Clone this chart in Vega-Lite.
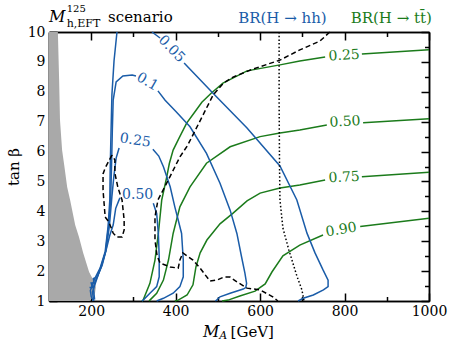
{
"$schema": "https://vega.github.io/schema/vega-lite/v6.json",
"width": 380, "height": 269,
"autosize": {"type": "none"},
"padding": {"left": 49, "top": 32, "right": 25, "bottom": 51},
"background": "white",
"config": {
 "view": {"stroke": null},
 "axis": {"domainColor": "black", "domainWidth": 1.5, "tickColor": "black", "tickWidth": 1.5, "labelFont": "DejaVu Serif", "labelFontSize": 14, "labelColor": "black", "labelFlush": false, "grid": false, "titleFont": "DejaVu Serif", "titleFontWeight": "normal", "titleFontSize": 15, "titleColor": "black"},
 "text": {"font": "DejaVu Serif"}
},
"data": {"values": [{}]},
"datasets": {
 "excl": [{"M":121,"t":10},{"M":124,"t":8.39},{"M":126,"t":7.06},{"M":131,"t":6.05},{"M":136,"t":5.55},{"M":143,"t":4.81},{"M":150,"t":4.38},{"M":162,"t":3.54},{"M":171,"t":3.14},{"M":181,"t":2.61},{"M":195,"t":1.97},{"M":207,"t":1.64},{"M":211,"t":1.47},{"M":209,"t":1.27},{"M":202,"t":1.1},{"M":195,"t":1.0}],
 "hh": [
  {"c":"a","M":261,"t":10},{"c":"a","M":254,"t":9.03},{"c":"a","M":249,"t":7.89},{"c":"a","M":247,"t":6.72},{"c":"a","M":245,"t":5.45},{"c":"a","M":244,"t":4.38},{"c":"a","M":240,"t":3.5},{"c":"a","M":233,"t":2.65},{"c":"a","M":221,"t":2.1},{"c":"a","M":209,"t":1.77},{"c":"a","M":203,"t":1.55},{"c":"a","M":198,"t":1.35},{"c":"a","M":200,"t":1.15},{"c":"a","M":205,"t":1.0},
  {"c":"b","M":344,"t":10},{"c":"b","M":363,"t":9.8},
  {"c":"c","M":420,"t":8.96},{"c":"c","M":488,"t":7.96},{"c":"c","M":569,"t":6.79},{"c":"c","M":647,"t":5.52},{"c":"c","M":687,"t":4.38},{"c":"c","M":711,"t":3.27},{"c":"c","M":730,"t":2.61},{"c":"c","M":749,"t":2.04},{"c":"c","M":761,"t":1.7},{"c":"c","M":761,"t":1.48},{"c":"c","M":750,"t":1.37},{"c":"c","M":726,"t":1.2},{"c":"c","M":702,"t":1.09},{"c":"c","M":690,"t":1.0},
  {"c":"d","M":206,"t":1.0},{"c":"d","M":203,"t":1.3},{"c":"d","M":210,"t":1.6},{"c":"d","M":222,"t":2.1},{"c":"d","M":234,"t":2.65},{"c":"d","M":241,"t":3.5},{"c":"d","M":246,"t":4.38},{"c":"d","M":248,"t":5.45},{"c":"d","M":250,"t":6.72},{"c":"d","M":252,"t":7.72},{"c":"d","M":259,"t":8.33},{"c":"d","M":275,"t":8.53},{"c":"d","M":297,"t":8.56},{"c":"d","M":306,"t":8.53},
  {"c":"e","M":358,"t":8.03},{"c":"e","M":375,"t":7.72},{"c":"e","M":400,"t":7.35},{"c":"e","M":434,"t":6.83},{"c":"e","M":473,"t":5.94},{"c":"e","M":505,"t":4.94},{"c":"e","M":529,"t":4.04},{"c":"e","M":545,"t":3.26},{"c":"e","M":556,"t":2.48},{"c":"e","M":564,"t":1.93},{"c":"e","M":568,"t":1.59},{"c":"e","M":566,"t":1.45},{"c":"e","M":560,"t":1.4},{"c":"e","M":529,"t":1.26},{"c":"e","M":505,"t":1.14},{"c":"e","M":497,"t":1.03},{"c":"e","M":494,"t":1.0},
  {"c":"f","M":208,"t":1.05},{"c":"f","M":205,"t":1.45},{"c":"f","M":212,"t":1.75},{"c":"f","M":224,"t":2.15},{"c":"f","M":235,"t":2.7},{"c":"f","M":243,"t":3.5},{"c":"f","M":249,"t":4.5},{"c":"f","M":254,"t":5.22},{"c":"f","M":259,"t":5.78},{"c":"f","M":266,"t":6.12},
  {"c":"g","M":346,"t":6.08},{"c":"g","M":360,"t":5.85},{"c":"g","M":371,"t":5.49},{"c":"g","M":387,"t":4.82},{"c":"g","M":398,"t":4.15},{"c":"g","M":406,"t":3.71},{"c":"g","M":414,"t":3.26},{"c":"g","M":418,"t":2.37},{"c":"g","M":418,"t":1.81},{"c":"g","M":410,"t":1.48},{"c":"g","M":394,"t":1.26},{"c":"g","M":371,"t":1.09},{"c":"g","M":355,"t":1.0},
  {"c":"h","M":196,"t":1.45},{"c":"h","M":203,"t":1.45},{"c":"h","M":200,"t":1.6},{"c":"h","M":207,"t":1.6},{"c":"h","M":205,"t":1.75},{"c":"h","M":214,"t":1.8},{"c":"h","M":226,"t":2.2},{"c":"h","M":236,"t":2.75},{"c":"h","M":244,"t":3.2},{"c":"h","M":252,"t":3.54},{"c":"h","M":258,"t":4.1},{"c":"h","M":265,"t":4.35},{"c":"h","M":268,"t":4.45},
  {"c":"k","M":347,"t":4.27},{"c":"k","M":355,"t":3.93},{"c":"k","M":359,"t":3.26},{"c":"k","M":361,"t":2.48},{"c":"k","M":361,"t":1.81},{"c":"k","M":355,"t":1.48},{"c":"k","M":339,"t":1.26},{"c":"k","M":323,"t":1.03},{"c":"k","M":320,"t":1.0}
 ],
 "tt": [
  {"c":"a","M":1000,"t":9.41},{"c":"a","M":841,"t":9.26},
  {"c":"b","M":754,"t":9.16},{"c":"b","M":694,"t":9.03},{"c":"b","M":647,"t":8.9},{"c":"b","M":569,"t":8.7},{"c":"b","M":512,"t":8.29},{"c":"b","M":484,"t":7.95},{"c":"b","M":462,"t":7.65},{"c":"b","M":444,"t":7.3},{"c":"b","M":426,"t":6.95},{"c":"b","M":408,"t":6.45},{"c":"b","M":394,"t":6.05},{"c":"b","M":385,"t":5.6},{"c":"b","M":379,"t":5.16},{"c":"b","M":367,"t":4.38},{"c":"b","M":359,"t":3.26},{"c":"b","M":351,"t":2.37},{"c":"b","M":339,"t":1.59},{"c":"b","M":323,"t":1.03},{"c":"b","M":320,"t":1.0},
  {"c":"c","M":1000,"t":7.1},{"c":"c","M":844,"t":6.96},
  {"c":"d","M":758,"t":6.89},{"c":"d","M":694,"t":6.72},{"c":"d","M":647,"t":6.62},{"c":"d","M":600,"t":6.5},{"c":"d","M":529,"t":6.16},{"c":"d","M":473,"t":5.61},{"c":"d","M":434,"t":4.82},{"c":"d","M":410,"t":4.15},{"c":"d","M":394,"t":3.26},{"c":"d","M":383,"t":2.37},{"c":"d","M":371,"t":1.7},{"c":"d","M":355,"t":1.26},{"c":"d","M":339,"t":1.03},{"c":"d","M":337,"t":1.0},
  {"c":"e","M":1000,"t":5.31},{"c":"e","M":841,"t":5.16},
  {"c":"f","M":754,"t":5.05},{"c":"f","M":694,"t":4.88},{"c":"f","M":647,"t":4.78},{"c":"f","M":600,"t":4.61},{"c":"f","M":569,"t":4.35},{"c":"f","M":536,"t":3.94},{"c":"f","M":505,"t":3.58},{"c":"f","M":474,"t":3.04},{"c":"f","M":458,"t":2.61},{"c":"f","M":448,"t":2.14},{"c":"f","M":441,"t":1.54},{"c":"f","M":427,"t":1.2},{"c":"f","M":406,"t":1.03},{"c":"f","M":398,"t":1.0},
  {"c":"g","M":1000,"t":3.77},{"c":"g","M":837,"t":3.49},
  {"c":"h","M":749,"t":3.21},{"c":"h","M":694,"t":2.87},{"c":"h","M":654,"t":2.51},{"c":"h","M":628,"t":1.97},{"c":"h","M":612,"t":1.57},{"c":"h","M":588,"t":1.33},{"c":"h","M":552,"t":1.17},{"c":"h","M":524,"t":1.03},{"c":"h","M":510,"t":1.0}
 ],
 "dash": [
  {"c":"a","M":765,"t":10},{"c":"a","M":742,"t":9.7},{"c":"a","M":694,"t":9.4},{"c":"a","M":647,"t":9.06},{"c":"a","M":583,"t":8.76},{"c":"a","M":536,"t":8.49},{"c":"a","M":513,"t":8.29},{"c":"a","M":489,"t":7.9},{"c":"a","M":465,"t":7.23},{"c":"a","M":446,"t":6.7},{"c":"a","M":428,"t":6.2},{"c":"a","M":410,"t":5.82},{"c":"a","M":379,"t":4.95},{"c":"a","M":358,"t":4.38},{"c":"a","M":351,"t":3.81},{"c":"a","M":351,"t":3.04},{"c":"a","M":356,"t":2.51},{"c":"a","M":363,"t":2.27},{"c":"a","M":387,"t":2.14},{"c":"a","M":406,"t":2.1},{"c":"a","M":410,"t":2.37},{"c":"a","M":417,"t":2.61},{"c":"a","M":441,"t":2.37},{"c":"a","M":458,"t":2.1},{"c":"a","M":481,"t":1.67},{"c":"a","M":498,"t":1.7},{"c":"a","M":514,"t":1.8},{"c":"a","M":529,"t":1.8},{"c":"a","M":545,"t":1.64},{"c":"a","M":569,"t":1.43},{"c":"a","M":600,"t":1.37},{"c":"a","M":631,"t":1.13},{"c":"a","M":642,"t":1.0},
  {"c":"b","M":249,"t":5.88},{"c":"b","M":233,"t":5.45},{"c":"b","M":228,"t":5.25},{"c":"b","M":228,"t":4.71},{"c":"b","M":233,"t":3.81},{"c":"b","M":242,"t":3.64},{"c":"b","M":252,"t":3.27},{"c":"b","M":261,"t":3.14},{"c":"b","M":273,"t":3.14},{"c":"b","M":278,"t":3.38},{"c":"b","M":278,"t":3.71},{"c":"b","M":273,"t":4.38},{"c":"b","M":263,"t":4.81},{"c":"b","M":256,"t":5.28},{"c":"b","M":256,"t":5.72},{"c":"b","M":249,"t":5.88}
 ],
 "dot": [{"M":645,"t":10},{"M":645,"t":7.72},{"M":646,"t":5.48},{"M":647,"t":4.38},{"M":654,"t":3.44},{"M":668,"t":2.71},{"M":687,"t":1.84},{"M":699,"t":1.37},{"M":704,"t":1.0}],
 "lab": [
  {"g":"hh","v":"0.05","M":390,"t":9.43},{"g":"hh","v":"0.1","M":333,"t":8.33},{"g":"hh","v":"0.25","M":304,"t":6.37},{"g":"hh","v":"0.50","M":310,"t":4.55},
  {"g":"tt","v":"0.25","M":799,"t":9.21},{"g":"tt","v":"0.50","M":801,"t":6.99},{"g":"tt","v":"0.75","M":799,"t":5.13},{"g":"tt","v":"0.90","M":792,"t":3.38}
 ]
},
"layer": [
 {"data": {"name": "excl"}, "mark": {"type": "area", "orient": "horizontal", "color": "#a9a9a9"},
  "encoding": {
   "x": {"field": "M", "type": "quantitative", "scale": {"domain": [100, 1000], "nice": false, "zero": false}, "axis": {"orient": "bottom", "values": [200, 400, 600, 800, 1000], "format": "d", "tickSize": -8, "labelPadding": 11, "title": null}},
   "x2": {"datum": 100},
   "y": {"field": "t", "type": "quantitative", "scale": {"domain": [1, 10], "nice": false, "zero": false}, "axis": {"orient": "left", "values": [1,2,3,4,5,6,7,8,9,10], "format": "d", "tickSize": -8, "labelPadding": 12, "title": "tan β", "titlePadding": 6}}
  }},
 {"data": {"name": "tt"}, "mark": {"type": "line", "color": "#1b7b1b", "strokeWidth": 1.5},
  "encoding": {
   "x": {"field": "M", "type": "quantitative", "scale": {"domain": [100, 1000], "nice": false, "zero": false}, "axis": {"orient": "top", "values": [200, 400, 600, 800, 1000], "tickSize": -8, "labels": false, "title": null}},
   "y": {"field": "t", "type": "quantitative", "scale": {"domain": [1, 10], "nice": false, "zero": false}, "axis": {"orient": "right", "values": [1,2,3,4,5,6,7,8,9,10], "tickSize": -8, "labels": false, "title": null}},
   "detail": {"field": "c"}, "order": {"value": null}
  }},
 {"data": {"name": "hh"}, "mark": {"type": "line", "color": "#1a5ca8", "strokeWidth": 1.5},
  "encoding": {
   "x": {"field": "M", "type": "quantitative", "scale": {"domain": [100, 1000], "nice": false, "zero": false}, "axis": {"orient": "bottom", "values": [300, 500, 700, 900], "tickSize": -4.5, "labels": false, "title": null}},
   "y": {"field": "t", "type": "quantitative", "scale": {"domain": [1, 10], "nice": false, "zero": false}, "axis": {"orient": "left", "values": [1.5,2.5,3.5,4.5,5.5,6.5,7.5,8.5,9.5], "tickSize": -4.5, "labels": false, "title": null}},
   "detail": {"field": "c"}, "order": {"value": null}
  }},
 {"data": {"name": "dash"}, "mark": {"type": "line", "color": "black", "strokeWidth": 1.5, "strokeDash": [5, 3]},
  "encoding": {
   "x": {"field": "M", "type": "quantitative", "scale": {"domain": [100, 1000], "nice": false, "zero": false}, "axis": {"orient": "top", "values": [300, 500, 700, 900], "tickSize": -4.5, "labels": false, "title": null}},
   "y": {"field": "t", "type": "quantitative", "scale": {"domain": [1, 10], "nice": false, "zero": false}, "axis": {"orient": "right", "values": [1.5,2.5,3.5,4.5,5.5,6.5,7.5,8.5,9.5], "tickSize": -4.5, "labels": false, "title": null}},
   "detail": {"field": "c"}, "order": {"value": null}
  }},
 {"data": {"name": "dot"}, "mark": {"type": "line", "color": "black", "strokeWidth": 1.5, "strokeDash": [1.5, 2.2]},
  "encoding": {
   "x": {"field": "M", "type": "quantitative", "scale": {"domain": [100, 1000], "nice": false, "zero": false}, "axis": null},
   "y": {"field": "t", "type": "quantitative", "scale": {"domain": [1, 10], "nice": false, "zero": false}, "axis": null},
   "order": {"value": null}
  }},
 {"data": {"name": "lab"}, "transform": [{"filter": "datum.g == 'hh' && datum.v == '0.05'"}], "mark": {"type": "text", "color": "#1a5ca8", "fontSize": 14, "angle": 46, "align": "center", "baseline": "middle"},
  "encoding": {"x": {"field": "M", "type": "quantitative", "scale": {"domain": [100, 1000], "nice": false, "zero": false}, "axis": null}, "y": {"field": "t", "type": "quantitative", "scale": {"domain": [1, 10], "nice": false, "zero": false}, "axis": null}, "text": {"field": "v"}}},
 {"data": {"name": "lab"}, "transform": [{"filter": "datum.g == 'hh' && datum.v == '0.1'"}], "mark": {"type": "text", "color": "#1a5ca8", "fontSize": 14, "angle": 30, "align": "center", "baseline": "middle"},
  "encoding": {"x": {"field": "M", "type": "quantitative", "scale": {"domain": [100, 1000], "nice": false, "zero": false}, "axis": null}, "y": {"field": "t", "type": "quantitative", "scale": {"domain": [1, 10], "nice": false, "zero": false}, "axis": null}, "text": {"field": "v"}}},
 {"data": {"name": "lab"}, "transform": [{"filter": "datum.g == 'hh' && datum.v == '0.25'"}], "mark": {"type": "text", "color": "#1a5ca8", "fontSize": 14, "angle": 8, "align": "center", "baseline": "middle"},
  "encoding": {"x": {"field": "M", "type": "quantitative", "scale": {"domain": [100, 1000], "nice": false, "zero": false}, "axis": null}, "y": {"field": "t", "type": "quantitative", "scale": {"domain": [1, 10], "nice": false, "zero": false}, "axis": null}, "text": {"field": "v"}}},
 {"data": {"name": "lab"}, "transform": [{"filter": "datum.g == 'hh' && datum.v == '0.50'"}], "mark": {"type": "text", "color": "#1a5ca8", "fontSize": 14, "align": "center", "baseline": "middle"},
  "encoding": {"x": {"field": "M", "type": "quantitative", "scale": {"domain": [100, 1000], "nice": false, "zero": false}, "axis": null}, "y": {"field": "t", "type": "quantitative", "scale": {"domain": [1, 10], "nice": false, "zero": false}, "axis": null}, "text": {"field": "v"}}},
 {"data": {"name": "lab"}, "transform": [{"filter": "datum.g == 'tt' && datum.v != '0.90'"}], "mark": {"type": "text", "color": "#1b7b1b", "fontSize": 14, "angle": -3, "align": "center", "baseline": "middle"},
  "encoding": {"x": {"field": "M", "type": "quantitative", "scale": {"domain": [100, 1000], "nice": false, "zero": false}, "axis": null}, "y": {"field": "t", "type": "quantitative", "scale": {"domain": [1, 10], "nice": false, "zero": false}, "axis": null}, "text": {"field": "v"}}},
 {"data": {"name": "lab"}, "transform": [{"filter": "datum.g == 'tt' && datum.v == '0.90'"}], "mark": {"type": "text", "color": "#1b7b1b", "fontSize": 14, "angle": -10, "align": "center", "baseline": "middle"},
  "encoding": {"x": {"field": "M", "type": "quantitative", "scale": {"domain": [100, 1000], "nice": false, "zero": false}, "axis": null}, "y": {"field": "t", "type": "quantitative", "scale": {"domain": [1, 10], "nice": false, "zero": false}, "axis": null}, "text": {"field": "v"}}},
 {"mark": {"type": "text", "fontSize": 16, "fontStyle": "italic", "align": "left", "baseline": "alphabetic", "color": "black"},
  "encoding": {"x": {"datum": 100, "type": "quantitative", "scale": {"domain": [100, 1000], "nice": false, "zero": false}, "axis": null}, "y": {"datum": 10.33, "type": "quantitative", "scale": {"domain": [1, 10], "nice": false, "zero": false}, "axis": null}, "text": {"value": "M"}}},
 {"mark": {"type": "text", "fontSize": 10, "align": "left", "baseline": "alphabetic", "color": "black"},
  "encoding": {"x": {"datum": 142, "type": "quantitative", "scale": {"domain": [100, 1000], "nice": false, "zero": false}, "axis": null}, "y": {"datum": 10.67, "type": "quantitative", "scale": {"domain": [1, 10], "nice": false, "zero": false}, "axis": null}, "text": {"value": "125"}}},
 {"mark": {"type": "text", "fontSize": 11, "align": "left", "baseline": "alphabetic", "color": "black"},
  "encoding": {"x": {"datum": 142, "type": "quantitative", "scale": {"domain": [100, 1000], "nice": false, "zero": false}, "axis": null}, "y": {"datum": 10.17, "type": "quantitative", "scale": {"domain": [1, 10], "nice": false, "zero": false}, "axis": null}, "text": {"value": "h,EFT"}}},
 {"mark": {"type": "text", "fontSize": 15, "align": "left", "baseline": "alphabetic", "color": "black"},
  "encoding": {"x": {"datum": 240, "type": "quantitative", "scale": {"domain": [100, 1000], "nice": false, "zero": false}, "axis": null}, "y": {"datum": 10.33, "type": "quantitative", "scale": {"domain": [1, 10], "nice": false, "zero": false}, "axis": null}, "text": {"value": "scenario"}}},
 {"mark": {"type": "text", "fontSize": 15, "align": "left", "baseline": "alphabetic", "color": "#1a5ca8"},
  "encoding": {"x": {"datum": 548, "type": "quantitative", "scale": {"domain": [100, 1000], "nice": false, "zero": false}, "axis": null}, "y": {"datum": 10.3, "type": "quantitative", "scale": {"domain": [1, 10], "nice": false, "zero": false}, "axis": null}, "text": {"value": "BR(H → hh)"}}},
 {"mark": {"type": "text", "fontSize": 15, "align": "right", "baseline": "alphabetic", "color": "#1b7b1b"},
  "encoding": {"x": {"datum": 1007, "type": "quantitative", "scale": {"domain": [100, 1000], "nice": false, "zero": false}, "axis": null}, "y": {"datum": 10.3, "type": "quantitative", "scale": {"domain": [1, 10], "nice": false, "zero": false}, "axis": null}, "text": {"value": "BR(H → tt\u0304)"}}},
 {"mark": {"type": "text", "fontSize": 16, "fontStyle": "italic", "align": "left", "baseline": "alphabetic", "color": "black"},
  "encoding": {"x": {"datum": 465, "type": "quantitative", "scale": {"domain": [100, 1000], "nice": false, "zero": false}, "axis": null}, "y": {"datum": -0.2, "type": "quantitative", "scale": {"domain": [1, 10], "nice": false, "zero": false}, "axis": null}, "text": {"value": "M"}}},
 {"mark": {"type": "text", "fontSize": 11, "fontStyle": "italic", "align": "left", "baseline": "alphabetic", "color": "black"},
  "encoding": {"x": {"datum": 503, "type": "quantitative", "scale": {"domain": [100, 1000], "nice": false, "zero": false}, "axis": null}, "y": {"datum": -0.27, "type": "quantitative", "scale": {"domain": [1, 10], "nice": false, "zero": false}, "axis": null}, "text": {"value": "A"}}},
 {"mark": {"type": "text", "fontSize": 15, "align": "left", "baseline": "alphabetic", "color": "black"},
  "encoding": {"x": {"datum": 530, "type": "quantitative", "scale": {"domain": [100, 1000], "nice": false, "zero": false}, "axis": null}, "y": {"datum": -0.2, "type": "quantitative", "scale": {"domain": [1, 10], "nice": false, "zero": false}, "axis": null}, "text": {"value": "[GeV]"}}}
],
"resolve": {"axis": {"x": "independent", "y": "independent"}}
}
